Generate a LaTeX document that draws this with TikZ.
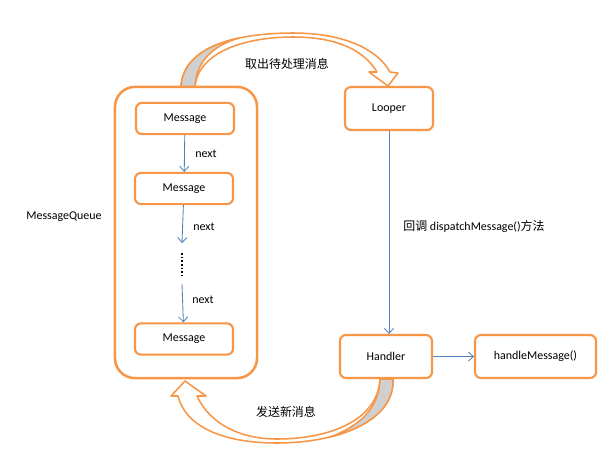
\documentclass[tikz,border=0pt]{standalone}
\usepackage{fontspec}
\setmainfont{Carlito}
\newfontfamily\cjk{Noto Sans CJK SC}
\usetikzlibrary{arrows.meta}
\definecolor{hOrange}{HTML}{F79646}
\definecolor{hBlue}{HTML}{4F81BD}
\definecolor{hGray}{HTML}{D0D0D0}
\tikzset{msg/.style={draw=hOrange, line width=1.5pt, rounded corners=0.15cm, fill=white, minimum width=2.45cm, minimum height=0.78cm, inner sep=0pt, font=\fontsize{8.5}{10}\selectfont}}
\tikzset{qbox/.style={draw=hOrange, line width=1.8pt, rounded corners=0.5cm, fill=white, minimum width=3.55cm, minimum height=7.28cm}}
\tikzset{nxt/.style={draw=hBlue, line width=0.6pt, -{Straight Barb[length=3.5pt,width=6.5pt]}}}
\tikzset{band/.style={draw=hOrange, line width=1.1pt, fill=white, line join=round}}
\tikzset{lbl/.style={font=\fontsize{8.5}{10}\selectfont, inner sep=0pt}}

\begin{document}
\begin{tikzpicture}[x=0.025cm, y=-0.025cm]
\useasboundingbox (0,0) rectangle (605,450);
% curved arrow on top: queue -> looper
\draw[band] (181,87) .. controls (183,45) and (240,33) .. (293,33)
  .. controls (345,33) and (378,50) .. (390,72) -- (398,73) -- (388,86)
  -- (369,72) -- (377,72) .. controls (365,52) and (340,37) .. (293,37)
  .. controls (245,37) and (198,52) .. (195,87) -- cycle;
\draw[band, fill=hGray] (181,87) .. controls (182.3,59.7) and (206.84,45.08) .. (238.41,38.18)
  .. controls (215,45) and (196,60) .. (195,87) -- cycle;
% curved arrow at the bottom: handler -> queue
\draw[band] (393,379) .. controls (395,420) and (340,443) .. (277,443)
  .. controls (220,443) and (185,425) .. (178,396) -- (171,396) -- (185,381)
  -- (206,396) -- (197,396) .. controls (210,424) and (240,439) .. (277,439)
  .. controls (330,439) and (378,420) .. (380,379) -- cycle;
\draw[band, fill=hGray] (393,379) .. controls (394.4,407.7) and (367.87,427.58) .. (330.22,436.93)
  .. controls (360,426) and (379,408) .. (380,379) -- cycle;
% message queue
\node (queue) at (186,232.5) [qbox] {};
\node (qlabel) at (64,217) [lbl] {MessageQueue};
\node (m1) at (185,118.5) [msg] {Message};
\node (m2) at (184,188.5) [msg] {Message};
\node (m3) at (184,339) [msg] {Message};
\coordinate (g1) at (182,243);
\coordinate (d1) at (182,253);
\coordinate (d2) at (182,275);
\coordinate (g2) at (182,284);
\draw[nxt] (m1) -- (m2);
\draw[nxt] (m2) -- (g1);
\draw[line width=1.6pt, dash pattern=on 1.3pt off 1.3pt] (d1) -- (d2);
\draw[nxt] (g2) -- (m3);
\node at (206,154) [lbl] {next};
\node at (204,227) [lbl] {next};
\node at (203,300) [lbl] {next};
% looper and handler
\node (looper) at (389,108.5) [msg, minimum width=2.2cm, minimum height=1.075cm] {Looper};
\node (handler) at (386,356.5) [msg, minimum width=2.3cm, minimum height=1.075cm] {Handler};
\node (hmsg) at (535.5,356.5) [msg, minimum width=3.025cm, minimum height=1.075cm] {handleMessage()};
\draw[nxt] (looper.south) -- (looper.south |- handler.north);
\draw[nxt] (handler) -- (hmsg);
% labels
\node (take) at (287,64) [lbl] {\cjk 取出待处理消息};
\node (send) at (286,412) [lbl] {\cjk 发送新消息};
\node (cb) at (474,226) [lbl] {{\cjk 回调} dispatchMessage(){\cjk 方法}};
\end{tikzpicture}
\end{document}
